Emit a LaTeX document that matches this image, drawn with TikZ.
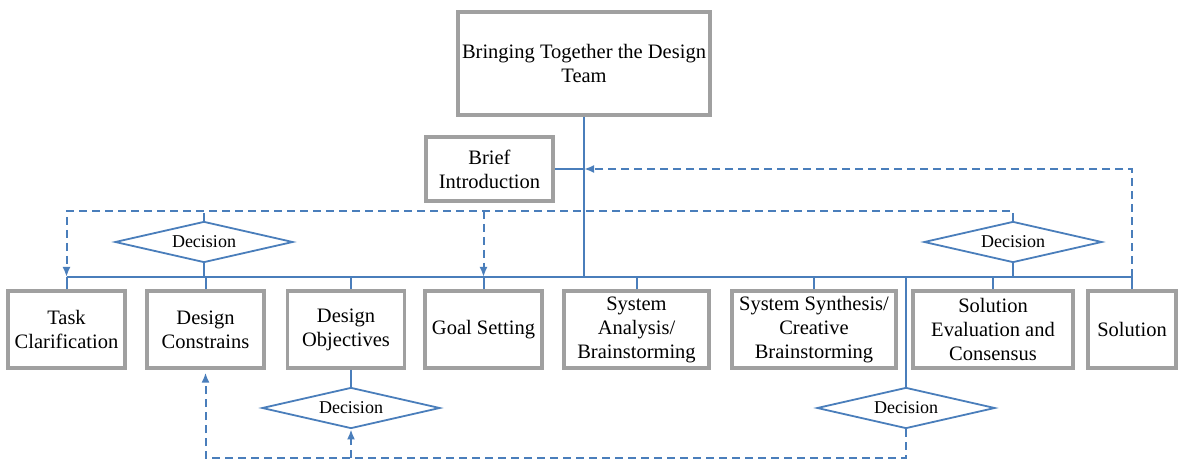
\documentclass[tikz,border=0pt]{standalone}
\usepackage{fontspec}
\setmainfont{Liberation Serif}
\usetikzlibrary{shapes.geometric,arrows.meta}
\definecolor{lineblue}{RGB}{74,126,187}
\definecolor{boxgray}{RGB}{160,160,160}

\begin{document}
\begin{tikzpicture}[x=1pt,y=-1pt,
  box/.style={draw=boxgray,line width=3.2pt,fill=white,align=center,inner sep=0pt,
    minimum height=77pt,font=\fontsize{20.5}{24}\selectfont},
  decision/.style={diamond,draw=lineblue,line width=1.8pt,aspect=4.3,inner sep=0pt,
    minimum width=178pt,minimum height=41pt,font=\fontsize{18}{20}\selectfont},
  link/.style={draw=lineblue,line width=2pt},
  back/.style={link,dash pattern=on 8pt off 5pt},
  tip/.style={-{Latex[length=10pt,width=8pt]}}]
\useasboundingbox (0,0) rectangle (1180,462);
\coordinate (bus) at (0,277);
\coordinate (loop) at (0,211);
\coordinate (low) at (0,458);

\node[box,minimum width=252pt,minimum height=103pt] (team) at (584,63.5) {Bringing Together the Design\\Team};
\node[box,minimum width=127pt,minimum height=64pt] (brief) at (489.5,169) {Brief\\Introduction};

\node[box,minimum width=117pt] (task) at (66.5,329.5) {Task\\Clarification};
\node[box,minimum width=117pt] (constr) at (205.5,329.5) {Design\\Constrains};
\node[box,minimum width=117pt] (obj) at (346,329.5) {Design\\Objectives};
\node[box,minimum width=117pt] (goal) at (483.5,329.5) {Goal Setting};
\node[box,minimum width=145pt] (analysis) at (636.5,329.5) {System\\Analysis/\\Brainstorming};
\node[box,minimum width=164pt] (synth) at (814,329.5) {System Synthesis/\\Creative\\Brainstorming};
\node[box,minimum width=160pt] (eval) at (993,329.5) {Solution\\Evaluation and\\Consensus};
\node[box,minimum width=88pt] (sol) at (1132,329.5) {Solution};

\node[decision] (dtl) at (204,242) {Decision};
\node[decision] (dtr) at (1013,242) {Decision};
\node[decision] (dbl) at (351,408) {Decision};
\node[decision] (dbr) at (906,408) {Decision};

\draw[link] (team.south) -- (team.south |- bus);
\draw[link] (brief.east) -- (brief.east -| team.south);
\draw[link] (task.north |- bus) -- (sol.north |- bus);
\foreach \n in {task,constr,goal,analysis,synth,eval,sol}
  \draw[link] (\n.north) -- (\n.north |- bus);
\draw[link] (dbl.north |- bus) -- (dbl.north |- obj.north);
\draw[link] (dbl.north |- obj.south) -- (dbl.north);
\draw[link] (dtl.south) -- (dtl.south |- bus);
\draw[link] (dtr.south) -- (dtr.south |- bus);
\draw[link] (dbr.north |- bus) -- (dbr.north);

\draw[back] (dtl.north) -- (dtl.north |- loop);
\draw[back,tip] (dtr.north) -- (dtr.north |- loop) -- (task.north |- loop) -- (task.north |- bus);
\draw[back,tip] (goal.north |- loop) -- (goal.north |- bus);
\draw[back,tip] (sol.north |- bus) -- (sol.north |- brief.east) -- (team.south |- brief.east);
\draw[back,tip,shorten >=3pt] (dbr.south) -- (dbr.south |- low) -- (constr.south |- low) -- (constr.south);
\draw[back,tip] (dbl.south |- low) -- (dbl.south);
\end{tikzpicture}
\end{document}
